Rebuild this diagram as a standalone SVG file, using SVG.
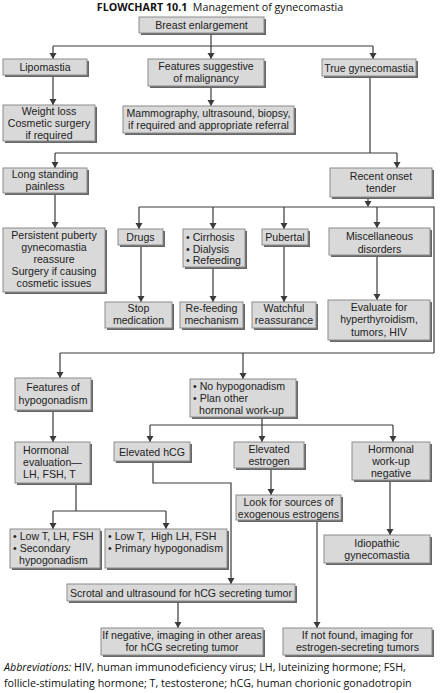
<svg xmlns="http://www.w3.org/2000/svg" width="444" height="693" viewBox="0 0 444 693">
<style>
.sh{fill:#666}
.bx{fill:#d9d9d9;stroke:#8c8c8c;stroke-width:1}
.t{font-family:"Liberation Sans",Arial,sans-serif;font-size:10.6px;fill:#222}
.c{text-anchor:middle}
.ln{fill:none;stroke:#3a3a3a;stroke-width:1.2}
.ah{fill:#3a3a3a}
.cap{font-family:"Open Sans","Noto Sans",sans-serif;font-size:10.7px;fill:#111}
</style>
<rect width="444" height="693" fill="#fff"/>
<text class="cap" x="220" y="11" text-anchor="middle" font-size="10.1" xml:space="preserve"><tspan font-weight="bold">FLOWCHART 10.1</tspan>  Management of gynecomastia</text>

<g id="connectors">
<g class="ln">
<path d="M211,33 V59"/>
<path d="M53,46 H373"/>
<path d="M53,46 V59"/>
<path d="M373,46 V59"/>
<path d="M53,75 V105"/>
<path d="M211,86 V106"/>
<path d="M370,76 V153"/>
<path d="M55,153 H397"/>
<path d="M55,153 V168"/>
<path d="M397,153 V168"/>
<path d="M55,193 V228"/>
<path d="M368,197 V206"/>
<path d="M139,207 H434 V353"/>
<path d="M139,207 V229"/>
<path d="M213,207 V229"/>
<path d="M284,207 V229"/>
<path d="M377,207 V228"/>
<path d="M141,245 V302"/>
<path d="M213,267 V302"/>
<path d="M284,245 V302"/>
<path d="M377,256 V300"/>
<path d="M60,353 H434"/>
<path d="M60,353 V378"/>
<path d="M243,353 V379"/>
<path d="M53,410 V442"/>
<path d="M262,417 V442"/>
<path d="M150,425 H393"/>
<path d="M150,425 V442"/>
<path d="M393,425 V442"/>
<path d="M76,483 V511"/>
<path d="M53,511 H166"/>
<path d="M53,511 V529"/>
<path d="M166,511 V529"/>
<path d="M153,461 V483 H231 V584"/>
<path d="M271,468 V495"/>
<path d="M390,482 V535"/>
<path d="M178,601 V628"/>
<path d="M317,520 V628"/>
</g>
<g class="ah">
<path d="M49.5,53 H56.5 L53,59 Z"/>
<path d="M207.5,53 H214.5 L211,59 Z"/>
<path d="M369.5,53 H376.5 L373,59 Z"/>
<path d="M49.5,99 H56.5 L53,105 Z"/>
<path d="M207.5,100 H214.5 L211,106 Z"/>
<path d="M51.5,162 H58.5 L55,168 Z"/>
<path d="M393.5,162 H400.5 L397,168 Z"/>
<path d="M51.5,222 H58.5 L55,228 Z"/>
<path d="M364.5,201 H371.5 L368,207 Z"/>
<path d="M135.5,223 H142.5 L139,229 Z"/>
<path d="M209.5,223 H216.5 L213,229 Z"/>
<path d="M280.5,223 H287.5 L284,229 Z"/>
<path d="M373.5,222 H380.5 L377,228 Z"/>
<path d="M137.5,296 H144.5 L141,302 Z"/>
<path d="M209.5,296 H216.5 L213,302 Z"/>
<path d="M280.5,296 H287.5 L284,302 Z"/>
<path d="M373.5,294 H380.5 L377,300 Z"/>
<path d="M56.5,372 H63.5 L60,378 Z"/>
<path d="M239.5,373 H246.5 L243,379 Z"/>
<path d="M49.5,436 H56.5 L53,442 Z"/>
<path d="M258.5,436 H265.5 L262,442 Z"/>
<path d="M146.5,436 H153.5 L150,442 Z"/>
<path d="M389.5,436 H396.5 L393,442 Z"/>
<path d="M49.5,523 H56.5 L53,529 Z"/>
<path d="M162.5,523 H169.5 L166,529 Z"/>
<path d="M227.5,578 H234.5 L231,584 Z"/>
<path d="M267.5,489 H274.5 L271,495 Z"/>
<path d="M386.5,529 H393.5 L390,535 Z"/>
<path d="M174.5,622 H181.5 L178,628 Z"/>
<path d="M313.5,622 H320.5 L317,628 Z"/>
</g>
</g>

<g id="breast"><rect class="sh" x="141" y="19" width="125" height="16"/><rect class="bx" x="139" y="17" width="125" height="16"/><text class="t c" x="201.5" y="29">Breast enlargement</text></g>
<g id="lipomastia"><rect class="sh" x="5" y="61" width="84" height="16"/><rect class="bx" x="3" y="59" width="84" height="16"/><text class="t c" x="45" y="71">Lipomastia</text></g>
<g id="malignancy"><rect class="sh" x="150" y="61" width="116" height="27"/><rect class="bx" x="148" y="59" width="116" height="27"/><text class="t c" x="206" y="70">Features suggestive</text><text class="t c" x="206" y="82">of malignancy</text></g>
<g id="truegyn"><rect class="sh" x="324" y="61" width="94" height="17"/><rect class="bx" x="322" y="59" width="94" height="17"/><text class="t c" x="369" y="71.5">True gynecomastia</text></g>
<g id="weightloss"><rect class="sh" x="5" y="107" width="92" height="36"/><rect class="bx" x="3" y="105" width="92" height="36"/><text class="t c" x="49" y="115">Weight loss</text><text class="t c" x="49" y="127">Cosmetic surgery</text><text class="t c" x="49" y="139">if required</text></g>
<g id="mammo"><rect class="sh" x="125" y="108" width="171" height="27"/><rect class="bx" x="123" y="106" width="171" height="27"/><text class="t c" x="208.5" y="117">Mammography, ultrasound, biopsy,</text><text class="t c" x="208.5" y="129">if required and appropriate referral</text></g>
<g id="longstanding"><rect class="sh" x="5" y="170" width="84" height="25"/><rect class="bx" x="3" y="168" width="84" height="25"/><text class="t c" x="45" y="178">Long standing</text><text class="t c" x="45" y="190">painless</text></g>
<g id="recent"><rect class="sh" x="332" y="170" width="102" height="29"/><rect class="bx" x="330" y="168" width="102" height="29"/><text class="t c" x="381" y="179.5">Recent onset</text><text class="t c" x="381" y="191.5">tender</text></g>
<g id="persistent"><rect class="sh" x="5" y="230" width="102" height="64"/><rect class="bx" x="3" y="228" width="102" height="64"/><text class="t c" x="54" y="239">Persistent puberty</text><text class="t c" x="54" y="251">gynecomastia</text><text class="t c" x="54" y="263">reassure</text><text class="t c" x="54" y="275">Surgery if causing</text><text class="t c" x="54" y="287">cosmetic issues</text></g>
<g id="drugs"><rect class="sh" x="120" y="231" width="45" height="16"/><rect class="bx" x="118" y="229" width="45" height="16"/><text class="t c" x="140.5" y="241">Drugs</text></g>
<g id="cirrhosis"><rect class="sh" x="185" y="231" width="62" height="38"/><rect class="bx" x="183" y="229" width="62" height="38"/><text class="t" x="186" y="241">• Cirrhosis</text><text class="t" x="186" y="253">• Dialysis</text><text class="t" x="186" y="264">• Refeeding</text></g>
<g id="pubertal"><rect class="sh" x="264" y="231" width="46" height="16"/><rect class="bx" x="262" y="229" width="46" height="16"/><text class="t c" x="285" y="241">Pubertal</text></g>
<g id="misc"><rect class="sh" x="331" y="230" width="101" height="27"/><rect class="bx" x="329" y="228" width="101" height="27"/><text class="t c" x="379.5" y="240">Miscellaneous</text><text class="t c" x="379.5" y="252.5">disorders</text></g>
<g id="stop"><rect class="sh" x="107" y="304" width="67" height="26"/><rect class="bx" x="105" y="302" width="67" height="26"/><text class="t c" x="138.5" y="312">Stop</text><text class="t c" x="138.5" y="324">medication</text></g>
<g id="refeeding"><rect class="sh" x="182" y="304" width="63" height="26"/><rect class="bx" x="180" y="302" width="63" height="26"/><text class="t c" x="211.5" y="312">Re-feeding</text><text class="t c" x="211.5" y="324">mechanism</text></g>
<g id="watchful"><rect class="sh" x="254" y="304" width="64" height="26"/><rect class="bx" x="252" y="302" width="64" height="26"/><text class="t c" x="284" y="312">Watchful</text><text class="t c" x="284" y="324">reassurance</text></g>
<g id="evaluate"><rect class="sh" x="330" y="302" width="102" height="40"/><rect class="bx" x="328" y="300" width="102" height="40"/><text class="t c" x="379" y="311">Evaluate for</text><text class="t c" x="379" y="323">hyperthyroidism,</text><text class="t c" x="379" y="335.5">tumors, HIV</text></g>
<g id="featureshypo"><rect class="sh" x="17" y="380" width="76" height="32"/><rect class="bx" x="15" y="378" width="76" height="32"/><text class="t c" x="53" y="391">Features of</text><text class="t c" x="53" y="403.5">hypogonadism</text></g>
<g id="nohypo"><rect class="sh" x="192" y="381" width="106" height="38"/><rect class="bx" x="190" y="379" width="106" height="38"/><text class="t" x="193" y="389.5">• No hypogonadism</text><text class="t" x="193" y="401.5">• Plan other</text><text class="t" x="199" y="413.5">hormonal work-up</text></g>
<g id="hormeval"><rect class="sh" x="17" y="444" width="75" height="41"/><rect class="bx" x="15" y="442" width="75" height="41"/><text class="t" x="23" y="454">Hormonal</text><text class="t" x="23" y="466">evaluation—</text><text class="t" x="23" y="478">LH, FSH, T</text></g>
<g id="hcg"><rect class="sh" x="116" y="444" width="76" height="19"/><rect class="bx" x="114" y="442" width="76" height="19"/><text class="t c" x="152" y="455.5">Elevated hCG</text></g>
<g id="estrogen"><rect class="sh" x="236" y="444" width="70" height="26"/><rect class="bx" x="234" y="442" width="70" height="26"/><text class="t c" x="269" y="452.5">Elevated</text><text class="t c" x="269" y="464.5">estrogen</text></g>
<g id="negative"><rect class="sh" x="354" y="444" width="78" height="38"/><rect class="bx" x="352" y="442" width="78" height="38"/><text class="t c" x="391" y="452.5">Hormonal</text><text class="t c" x="391" y="464.5">work-up</text><text class="t c" x="391" y="476.5">negative</text></g>
<g id="lookfor"><rect class="sh" x="238" y="497" width="105" height="25"/><rect class="bx" x="236" y="495" width="105" height="25"/><text class="t c" x="288.5" y="506">Look for sources of</text><text class="t c" x="288.5" y="517.5">exogenous estrogens</text></g>
<g id="idiopathic"><rect class="sh" x="326" y="537" width="106" height="28"/><rect class="bx" x="324" y="535" width="106" height="28"/><text class="t c" x="377" y="547">Idiopathic</text><text class="t c" x="377" y="559">gynecomastia</text></g>
<g id="secondary"><rect class="sh" x="12" y="531" width="90" height="39"/><rect class="bx" x="10" y="529" width="90" height="39"/><text class="t" x="13" y="540">• Low T, LH, FSH</text><text class="t" x="13" y="552">• Secondary</text><text class="t" x="19" y="564">hypogonadism</text></g>
<g id="primary"><rect class="sh" x="107" y="531" width="122" height="39"/><rect class="bx" x="105" y="529" width="122" height="39"/><text class="t" x="108" y="540" xml:space="preserve">• Low T,  High LH, FSH</text><text class="t" x="108" y="552">• Primary hypogonadism</text></g>
<g id="scrotal"><rect class="sh" x="69" y="586" width="228" height="17"/><rect class="bx" x="67" y="584" width="228" height="17"/><text class="t c" x="181" y="596.5">Scrotal and ultrasound for hCG secreting tumor</text></g>
<g id="ifnegative"><rect class="sh" x="103" y="630" width="162" height="27"/><rect class="bx" x="101" y="628" width="162" height="27"/><text class="t c" x="182" y="639">If negative, imaging in other areas</text><text class="t c" x="182" y="651">for hCG secreting tumor</text></g>
<g id="ifnotfound"><rect class="sh" x="285" y="630" width="149" height="27"/><rect class="bx" x="283" y="628" width="149" height="27"/><text class="t c" x="357.5" y="639">If not found, imaging for</text><text class="t c" x="357.5" y="651">estrogen-secreting tumors</text></g>

<text class="cap" x="4" y="671"><tspan font-style="italic">Abbreviations:</tspan> HIV, human immunodeficiency virus; LH, luteinizing hormone; FSH,</text>
<text class="cap" x="4" y="687">follicle-stimulating hormone; T, testosterone; hCG, human chorionic gonadotropin</text>
</svg>
